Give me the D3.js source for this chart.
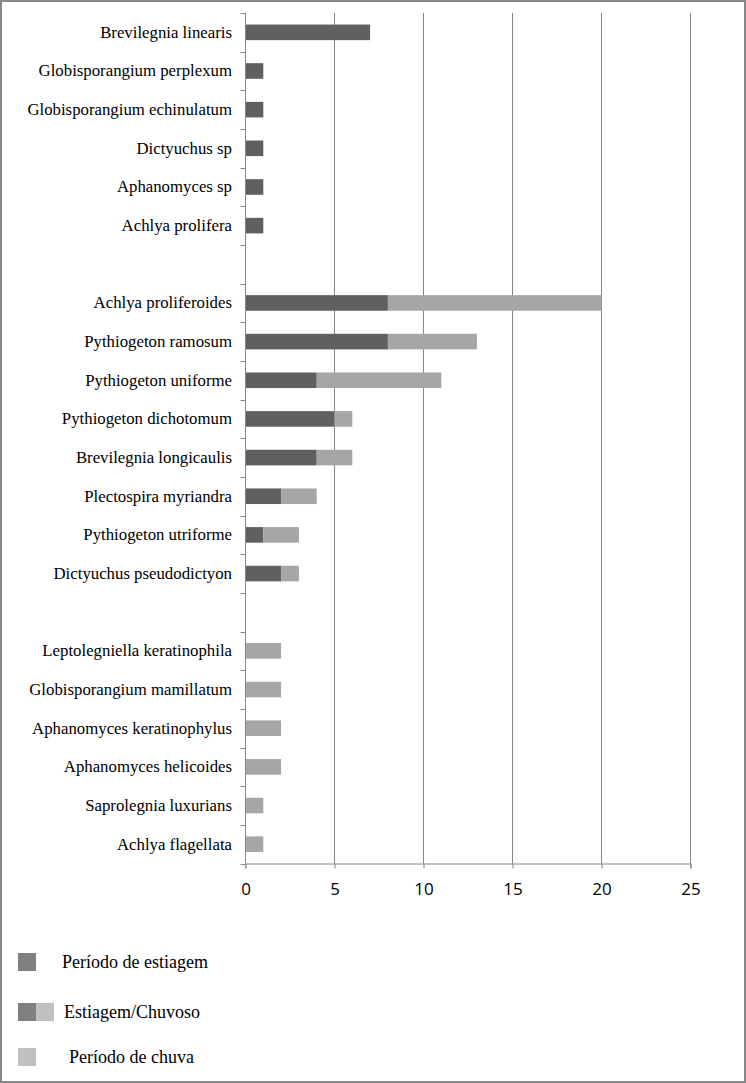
<!DOCTYPE html>
<html>
<head>
<meta charset="utf-8">
<script src="https://cdn.jsdelivr.net/npm/d3@7"></script>
<style>
  body { margin: 0; background: #fff; }
  svg { display: block; }
</style>
</head>
<body>
<svg id="chart" width="746" height="1083"></svg>
<script>
// species, top to bottom ("" = empty spacer row)
const species = [
    "Brevilegnia linearis", "Globisporangium perplexum", "Globisporangium echinulatum",
    "Dictyuchus sp", "Aphanomyces sp", "Achlya prolifera", "",
    "Achlya proliferoides", "Pythiogeton ramosum", "Pythiogeton uniforme",
    "Pythiogeton dichotomum", "Brevilegnia longicaulis", "Plectospira myriandra",
    "Pythiogeton utriforme", "Dictyuchus pseudodictyon", " ",
    "Leptolegniella keratinophila", "Globisporangium mamillatum", "Aphanomyces keratinophylus",
    "Aphanomyces helicoides", "Saprolegnia luxurians", "Achlya flagellata"
];
const estiagem = [7, 1, 1, 1, 1, 1, 0, 8, 8, 4, 5, 4, 2, 1, 2, 0, 0, 0, 0, 0, 0, 0];
const chuva    = [0, 0, 0, 0, 0, 0, 0, 12, 5, 7, 1, 2, 2, 2, 1, 0, 2, 2, 2, 2, 1, 1];
const xTicks = [0, 5, 10, 15, 20, 25];
const legendItems = ["Período de estiagem", "Estiagem/Chuvoso", "Período de chuva"];

const svg = d3.select("#chart");
const W = +svg.attr("width"), H = +svg.attr("height");

// outer frame
svg.append("rect")
    .attr("x", 1).attr("y", 1)
    .attr("width", W - 2).attr("height", H - 2)
    .attr("fill", "#fff")
    .attr("stroke", "#888").attr("stroke-width", 2);

let x = d3.scaleLinear().domain([0, 25]).range([245.5, 690.5]);
let y = d3.scaleBand().domain(species).range([13, 863.5]).paddingInner(0).paddingOuter(0);

// vertical gridlines
svg.selectAll("line.grid")
    .data(xTicks.slice(1))
    .enter().append("line")
    .attr("class", "grid")
    .attr("x1", d => x(d)).attr("x2", d => x(d))
    .attr("y1", 13).attr("y2", 863.5)
    .attr("stroke", "#868686");

// stacked bars
let barH = 15.6;
let rows = species.map((s, i) => ({s: s, a: estiagem[i], b: chuva[i]}));
svg.selectAll("rect.dry")
    .data(rows.filter(d => d.a > 0))
    .enter().append("rect")
    .attr("class", "dry")
    .attr("x", x(0))
    .attr("y", d => y(d.s) + (y.bandwidth() - barH) / 2)
    .attr("width", d => x(d.a) - x(0))
    .attr("height", barH)
    .attr("fill", "#606060");
svg.selectAll("rect.wet")
    .data(rows.filter(d => d.b > 0))
    .enter().append("rect")
    .attr("class", "wet")
    .attr("x", d => x(d.a))
    .attr("y", d => y(d.s) + (y.bandwidth() - barH) / 2)
    .attr("width", d => x(d.a + d.b) - x(d.a))
    .attr("height", barH)
    .attr("fill", "#a6a6a6");

// y axis: line, ticks at band edges, labels
let edges = species.map(s => y(s)).concat([y.range()[1]]);
svg.append("line")
    .attr("x1", x(0)).attr("x2", x(0))
    .attr("y1", 13).attr("y2", 863.5)
    .attr("stroke", "#868686");
svg.selectAll("line.ytick")
    .data(edges)
    .enter().append("line")
    .attr("class", "ytick")
    .attr("x1", x(0) - 5).attr("x2", x(0))
    .attr("y1", d => Math.round(d) + 0.5).attr("y2", d => Math.round(d) + 0.5)
    .attr("stroke", "#868686");
svg.selectAll("text.ylab")
    .data(species.filter(s => s.trim() !== ""))
    .enter().append("text")
    .attr("class", "ylab")
    .attr("x", 232)
    .attr("y", d => y(d) + y.bandwidth() / 2 + 5.5)
    .attr("text-anchor", "end")
    .attr("font-family", "Liberation Serif, Times New Roman, serif")
    .attr("font-size", 16.8)
    .attr("fill", "#000")
    .text(d => d);

// x axis
let xAxis = d3.axisBottom(x).tickValues(xTicks).tickSize(5).tickPadding(14);
let gx = svg.append("g")
    .attr("transform", "translate(0,863.5)")
    .call(xAxis);
gx.select(".domain").attr("stroke", "#868686");
gx.selectAll(".tick line").attr("stroke", "#868686");
gx.selectAll(".tick text")
    .attr("font-family", "Open Sans, Liberation Sans, sans-serif")
    .attr("font-size", 17)
    .attr("fill", "#000");

// legend
let legY = [962, 1012, 1057];
let leg = svg.selectAll("g.leg")
    .data(legendItems)
    .enter().append("g")
    .attr("class", "leg")
    .attr("transform", (d, i) => `translate(0,${legY[i]})`);
leg.filter((d, i) => i < 2).append("rect")
    .attr("x", 18).attr("y", -9).attr("width", 18).attr("height", 18)
    .attr("fill", "#808080");
leg.filter((d, i) => i === 1).append("rect")
    .attr("x", 36).attr("y", -9).attr("width", 18).attr("height", 18)
    .attr("fill", "#c0c0c0");
leg.filter((d, i) => i === 2).append("rect")
    .attr("x", 18).attr("y", -9).attr("width", 18).attr("height", 18)
    .attr("fill", "#c0c0c0");
let legX = [62, 64, 69];
leg.append("text")
    .attr("x", (d, i) => legX[i])
    .attr("y", 6)
    .attr("font-family", "Liberation Serif, Times New Roman, serif")
    .attr("font-size", 18)
    .attr("fill", "#000")
    .text(d => d);
</script>
</body>
</html>
